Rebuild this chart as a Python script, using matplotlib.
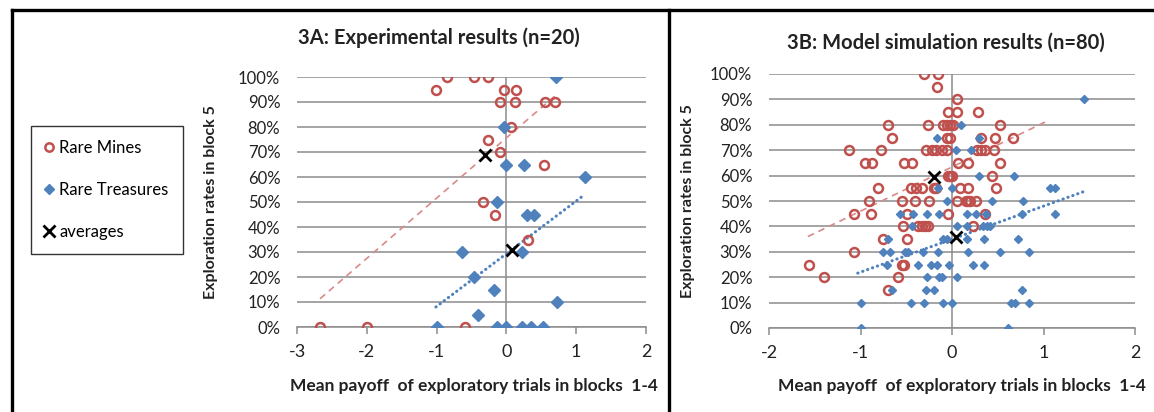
import matplotlib
matplotlib.use("Agg")
import matplotlib.pyplot as plt
from matplotlib.lines import Line2D
from matplotlib.ticker import PercentFormatter

plt.rcParams['font.family'] = ['Lato', 'DejaVu Sans']
plt.rcParams['axes.unicode_minus'] = False

RED = '#C0504D'
BLUE = '#4F81BD'
GRID = '#8C8C8C'

# 3A: experimental results, x = mean payoff, y = exploration rate (%)
exp_mines_x = [-0.85, -0.46, -0.26, -1.01, -0.03, 0.14, -0.09, 0.12, 0.56, 0.70,
               0.06, -0.27, -0.09, 0.54, -0.34, -0.17, 0.31, -2.67, -2.00, -0.60]
exp_mines_y = [100, 100, 100, 95, 95, 95, 90, 90, 90, 90,
               80, 75, 70, 65, 50, 45, 35, 0, 0, 0]
exp_treas_x = [0.71, -0.04, 0.00, 0.25, 1.12, -0.14, 0.30, 0.39, -0.64, 0.22,
               -0.47, -0.18, 0.72, -0.40, -1.00, -0.14, 0.00, 0.23, 0.35, 0.52]
exp_treas_y = [100, 80, 65, 65, 60, 50, 45, 45, 30, 30,
               20, 15, 10, 5, 0, 0, 0, 0, 0, 0]
exp_avg_x = [-0.31, 0.08]
exp_avg_y = [69, 31]
exp_mines_trend_x = [-2.67, 0.69]
exp_mines_trend_y = [11.3, 92.3]
exp_treas_trend_x = [-1.01, 1.09]
exp_treas_trend_y = [8.0, 52.3]

# 3B: model simulation results
sim_mines_x = [-0.31, -0.15,
               -0.16,
               0.06,
               -0.04, 0.05, 0.28,
               -0.70, -0.26, -0.10, -0.06, -0.02, 0.01, 0.53,
               -0.66, -0.06, -0.02, 0.32, 0.47, 0.67,
               -1.13, -0.78, -0.28, -0.22, -0.17, -0.11, -0.06, 0.27, 0.32, 0.36, 0.46,
               -0.95, -0.87, -0.52, -0.44, 0.07, 0.18, 0.53,
               -0.04, -0.02, 0.00, 0.44,
               -0.81, -0.45, -0.39, -0.33, -0.20, -0.17, 0.09, 0.17, 0.48,
               -0.91, -0.55, -0.40, -0.25, 0.05, 0.15, 0.18, 0.20, 0.26,
               -1.07, -0.89, -0.49, -0.04, 0.36,
               -0.54, -0.37, -0.33, -0.30, -0.26, 0.23,
               -0.75, -0.49,
               -1.07,
               -1.56, -0.55, -0.52,
               -1.40, -0.59,
               -0.70]
sim_mines_y = [100, 100,
               95,
               90,
               85, 85, 85,
               80, 80, 80, 80, 80, 80, 80,
               75, 75, 75, 75, 75, 75,
               70, 70, 70, 70, 70, 70, 70, 70, 70, 70, 70,
               65, 65, 65, 65, 65, 65, 65,
               60, 60, 60, 60,
               55, 55, 55, 55, 55, 55, 55, 55, 55,
               50, 50, 50, 50, 50, 50, 50, 50, 50,
               45, 45, 45, 45, 45,
               40, 40, 40, 40, 40, 40,
               35, 35,
               30,
               25, 25, 25,
               20, 20,
               15]
sim_treas_x = [1.44,
               0.10,
               -0.16, 0.29,
               0.04, 0.21,
               0.29, 0.68,
               -0.15, 0.00, 1.07, 1.13,
               -0.06, 0.44, 0.78,
               -0.57, -0.43, -0.27, -0.14, 0.16, 0.26, 0.37, 0.76, 1.13,
               -0.44, 0.06, 0.16, 0.34, 0.38, 0.42,
               -0.70, -0.10, -0.05, 0.16, 0.35, 0.72,
               -0.75, -0.68, -0.51, -0.48, -0.32, -0.15, 0.17, 0.53, 0.84,
               -0.71, -0.37, -0.23, -0.16, -0.03, 0.23, 0.35,
               -0.27, -0.14, -0.11, 0.05,
               -0.66, -0.28, -0.20, 0.76,
               -1.00, -0.45, -0.31, -0.10, 0.00, 0.65, 0.69, 0.84,
               -1.00, 0.61]
sim_treas_y = [90,
               80,
               75, 75,
               70, 70,
               60, 60,
               55, 55, 55, 55,
               50, 50, 50,
               45, 45, 45, 45, 45, 45, 45, 45, 45,
               40, 40, 40, 40, 40, 40,
               35, 35, 35, 35, 35, 35,
               30, 30, 30, 30, 30, 30, 30, 30, 30,
               25, 25, 25, 25, 25, 25, 25,
               20, 20, 20, 20,
               15, 15, 15, 15,
               10, 10, 10, 10, 10, 10, 10, 10,
               0, 0]
sim_avg_x = [-0.20, 0.04]
sim_avg_y = [59.4, 35.8]
sim_mines_trend_x = [-1.575, 1.03]
sim_mines_trend_y = [36.0, 81.3]
sim_treas_trend_x = [-1.03, 1.44]
sim_treas_trend_y = [21.6, 53.7]

fig = plt.figure(figsize=(11.54, 4.12), dpi=100)
W, H = 1154, 412


def px_box(x0, x1, y_top, y_bot):
    return [x0 / W, 1 - y_bot / H, (x1 - x0) / W, (y_bot - y_top) / H]


def style_axes(ax, xmin, xmax):
    ax.set_xlim(xmin, xmax)
    ax.set_ylim(0, 100)
    ax.set_xticks(range(xmin, xmax + 1))
    ax.set_yticks(range(0, 101, 10))
    ax.yaxis.set_major_formatter(PercentFormatter(100, decimals=0))
    for s in ['top', 'right', 'left']:
        ax.spines[s].set_visible(False)
    ax.spines['bottom'].set_color(GRID)
    ax.spines['bottom'].set_linewidth(1.1)
    ax.grid(axis='y', color=GRID, linewidth=1.1)
    ax.axvline(0, color=GRID, linewidth=1.1, zorder=1)
    ax.set_axisbelow(True)
    ax.tick_params(axis='y', length=0, pad=12, labelsize=12, colors='#222222')
    ax.tick_params(axis='x', length=5, width=1.1, color=GRID, pad=7,
                   labelsize=13, labelcolor='#222222')


def draw_panel(ax, mx, my, tx, ty, avx, avy, mtx, mty, ttx, tty, dsize):
    ax.plot(mtx, mty, color='#D98A88', linestyle=(0, (4, 3)), linewidth=1.2, zorder=2)
    ax.plot(ttx, tty, color=BLUE, linestyle=(0, (0.1, 1.6)), linewidth=2.2,
            dash_capstyle='round', zorder=2)
    ax.plot(mx, my, linestyle='none', marker='o', markersize=6.4,
            markerfacecolor='none', markeredgecolor=RED, markeredgewidth=1.8, zorder=3)
    ax.plot(tx, ty, linestyle='none', marker='D', markersize=dsize,
            color=BLUE, zorder=4)
    ax.plot(avx, avy, linestyle='none', marker='x', markersize=9,
            markeredgewidth=2.0, color='black', zorder=5)


ax1 = fig.add_axes(px_box(297, 646, 77, 327))
style_axes(ax1, -3, 2)
draw_panel(ax1, exp_mines_x, exp_mines_y, exp_treas_x, exp_treas_y, exp_avg_x, exp_avg_y,
           exp_mines_trend_x, exp_mines_trend_y, exp_treas_trend_x, exp_treas_trend_y, 5.8)

ax2 = fig.add_axes(px_box(769, 1135, 74, 328))
style_axes(ax2, -2, 2)
draw_panel(ax2, sim_mines_x, sim_mines_y, sim_treas_x, sim_treas_y, sim_avg_x, sim_avg_y,
           sim_mines_trend_x, sim_mines_trend_y, sim_treas_trend_x, sim_treas_trend_y, 4.2)

xlabel = 'Mean payoff  of exploratory trials in blocks  1-4'
ylabel = 'Exploration rates in block 5'
for ax, xl_x, xl_y, yl_x in [(ax1, 0.507, -0.204, -0.226), (ax2, 0.527, -0.197, -0.202)]:
    ax.set_xlabel(xlabel, fontsize=12.5, fontweight='bold', color='#222222')
    ax.xaxis.set_label_coords(xl_x, xl_y)
    ax.set_ylabel(ylabel, fontsize=11.5, fontweight='bold', color='#222222')
    ax.yaxis.set_label_coords(yl_x, 0.5)

fig.text(439 / W, 1 - 38 / H, '3A: Experimental results (n=20)', ha='center', va='center',
         fontsize=14.5, fontweight='bold', color='#222222')
fig.text(946 / W, 1 - 43 / H, '3B: Model simulation results (n=80)', ha='center', va='center',
         fontsize=14.5, fontweight='bold', color='#222222')

handles = [
    Line2D([], [], linestyle='none', marker='o', markersize=6, markerfacecolor='none',
           markeredgecolor=RED, markeredgewidth=1.8),
    Line2D([], [], linestyle='none', marker='D', markersize=5, color=BLUE),
    Line2D([], [], linestyle='none', marker='x', markersize=8, markeredgewidth=2.0,
           color='black'),
]
leg = fig.legend(handles, ['Rare Mines', 'Rare Treasures', 'averages'],
                 loc='upper left', bbox_to_anchor=(31 / W, 1 - 126 / H),
                 borderaxespad=0, fontsize=12, labelspacing=1.55, handlelength=0.5,
                 handletextpad=0.35, borderpad=0.85, fancybox=False,
                 edgecolor='#333333', framealpha=1)
leg.get_frame().set_linewidth(1.0)

# outer frame of the figure
for xs, ys in [([12, W], [10, 10]), ([12, 12], [10, H]), ([669, 669], [10, H])]:
    fig.add_artist(Line2D([x / W for x in xs], [1 - y / H for y in ys],
                          color='black', linewidth=2.4))

fig.savefig('out.png', dpi=100)
